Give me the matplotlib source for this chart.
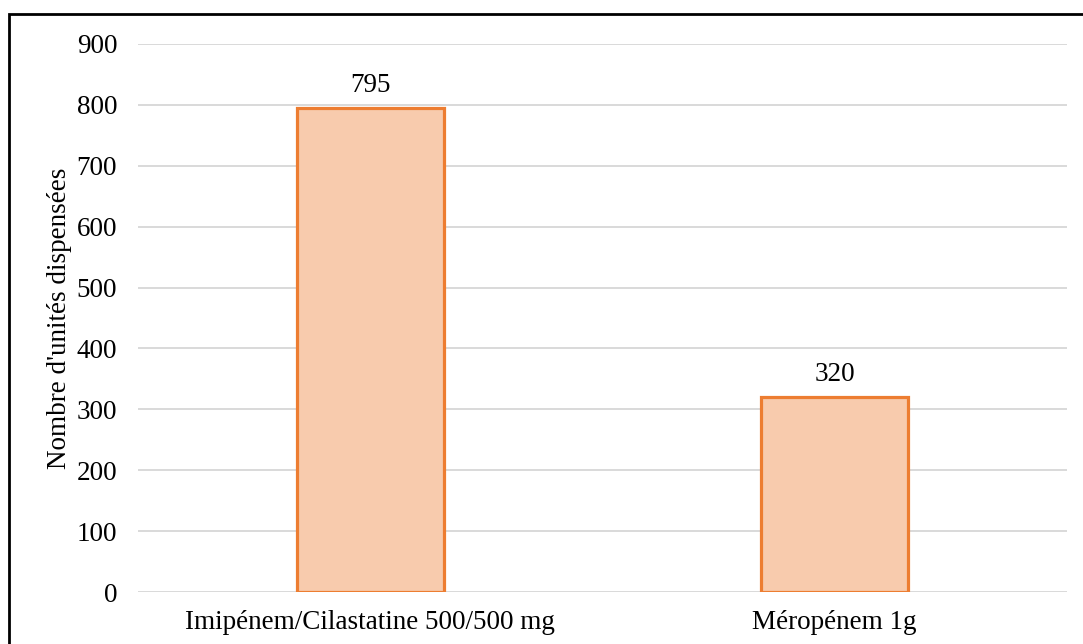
import matplotlib.pyplot as plt
from matplotlib.patches import Rectangle

categories = ["Imipénem/Cilastatine 500/500 mg", "Méropénem 1g"]
values = [795, 320]
yticks = [0, 100, 200, 300, 400, 500, 600, 700, 800, 900]
ylabel = "Nombre d'unités dispensées"

plt.rcParams['font.family'] = ['Liberation Serif', 'DejaVu Serif']
fs = 19.5

fig = plt.figure(figsize=(10.83, 6.44), dpi=100)
ax = fig.add_axes([138/1083, 1 - 592/644, (1067-138)/1083, (592-44)/644])

x = list(range(len(categories)))
bars = ax.bar(x, values, width=0.316, color='#F8CBAD', edgecolor='#ED7D31',
              linewidth=2.3, zorder=3)
for xi, v in zip(x, values):
    ax.annotate(str(v), (xi, v), xytext=(0, 7), textcoords='offset points',
                ha='center', va='bottom', fontsize=fs)

ax.set_xlim(-0.5, len(categories) - 0.5)
ax.set_ylim(0, 900)
ax.set_yticks(yticks)
ax.set_xticks(x)
ax.set_xticklabels(categories, fontsize=fs)
ax.tick_params(axis='y', labelsize=fs, length=0, pad=15)
ax.tick_params(axis='x', length=0, pad=13)
ax.yaxis.grid(True, color='#D9D9D9', linewidth=1.4, zorder=0)
for s in ax.spines.values():
    s.set_visible(False)
ax.set_ylabel(ylabel, fontsize=fs)
ax.yaxis.set_label_coords(-66/929, 0.5)

# outer frame (cut off at right and bottom like the original)
fig.patches.append(Rectangle((9/1083, -0.1), 1.2, (644 - 14)/644 + 0.1,
                             transform=fig.transFigure, fill=False,
                             edgecolor='black', linewidth=2, zorder=10))

fig.savefig("out.png", dpi=100)
